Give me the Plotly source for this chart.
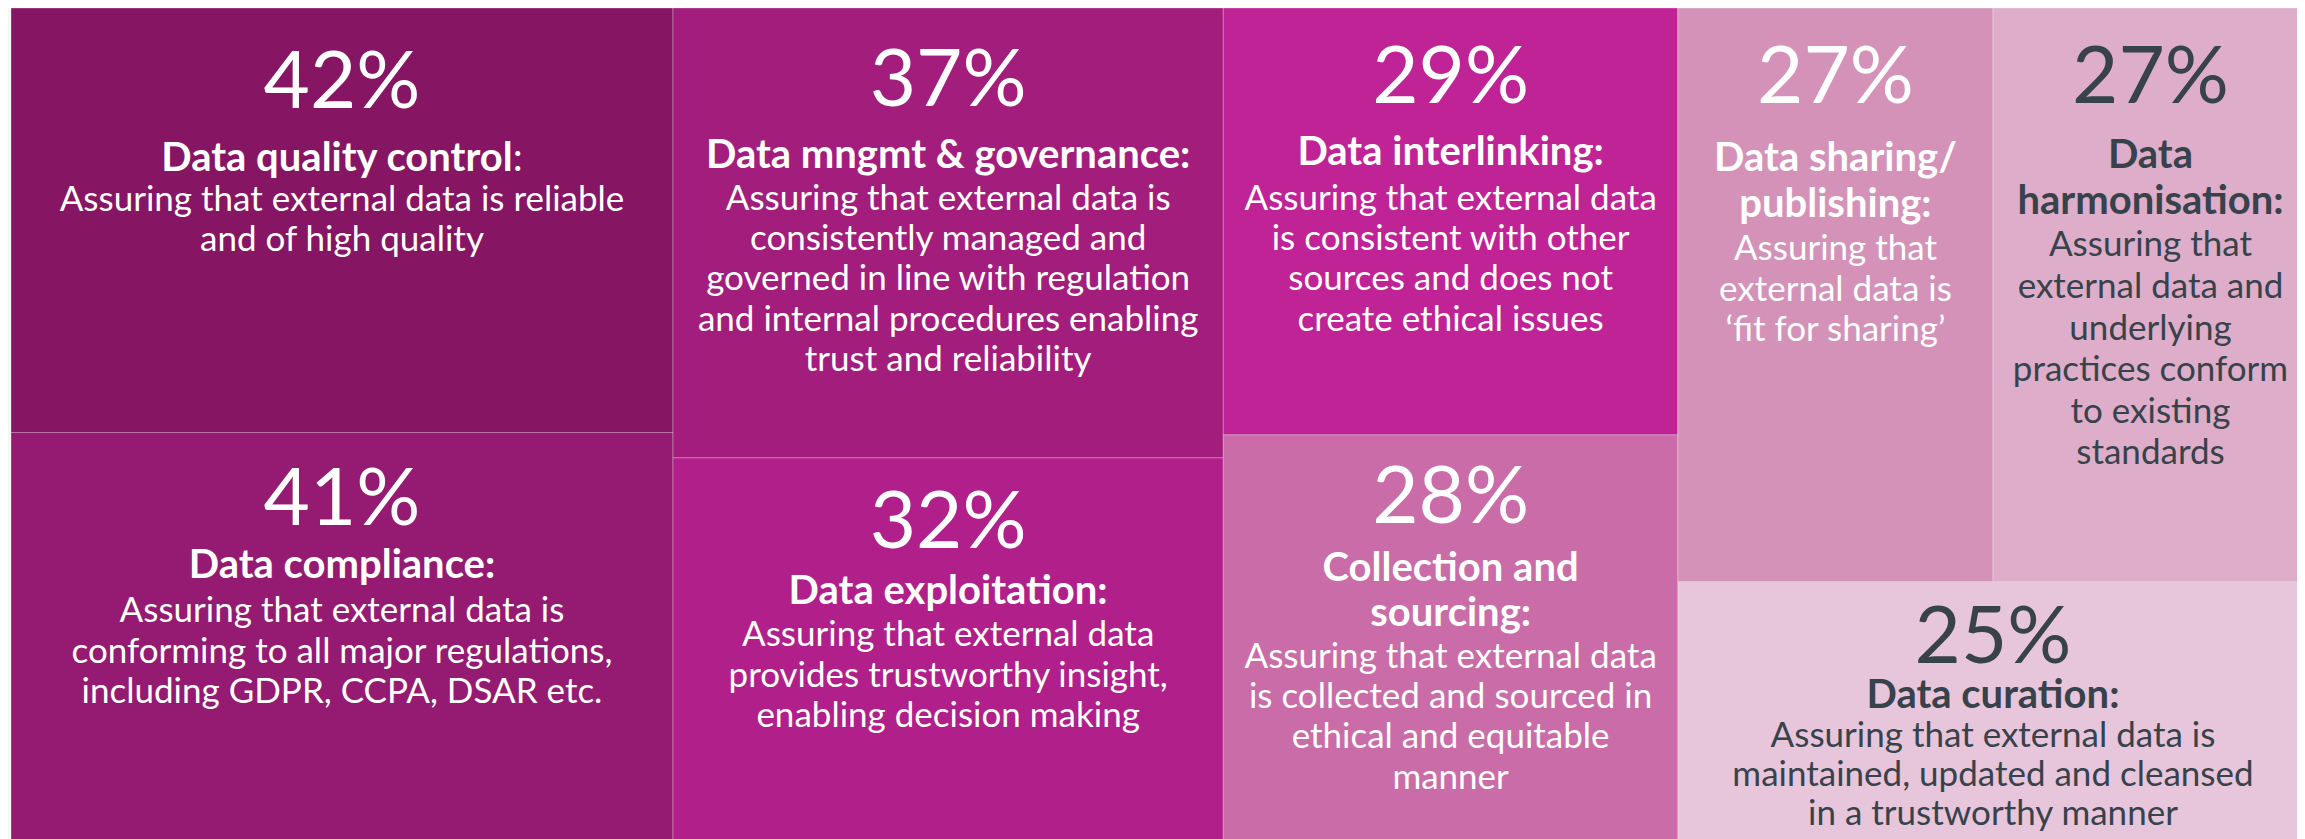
import plotly.graph_objects as go

# ---------------- data ----------------
pct_values = [42, 41, 37, 32, 29, 28, 27, 27, 25]

titles = [
    ["Data quality control:"],
    ["Data compliance:"],
    ["Data mngmt & governance:"],
    ["Data exploitation:"],
    ["Data interlinking:"],
    ["Collection and", "sourcing:"],
    ["Data sharing/", "publishing:"],
    ["Data", "harmonisation:"],
    ["Data curation:"],
]

descriptions = [
    ["Assuring that external data is reliable", "and of high quality"],
    ["Assuring that external data is", "conforming to all major regulations,",
     "including GDPR, CCPA, DSAR etc."],
    ["Assuring that external data is", "consistently managed and",
     "governed in line with regulation", "and internal procedures enabling",
     "trust and reliability"],
    ["Assuring that external data", "provides trustworthy insight,",
     "enabling decision making"],
    ["Assuring that external data", "is consistent with other",
     "sources and does not", "create ethical issues"],
    ["Assuring that external data", "is collected and sourced in",
     "ethical and equitable", "manner"],
    ["Assuring that", "external data is", "\u2018fit for sharing\u2019"],
    ["Assuring that", "external data and", "underlying", "practices conform",
     "to existing", "standards"],
    ["Assuring that external data is", "maintained, updated and cleansed",
     "in a trustworthy manner"],
]

tile_groups = ["A", "A", "B", "B", "C", "C", "E", "E", "D"]
group_ids = ["A", "B", "C", "D", "E"]
group_parents = ["root", "root", "root", "root", "D"]

# ---------------- styles ----------------
tile_colors = ["#861563", "#951a72", "#a31d7d", "#b11f8b", "#bf2396",
               "#c96ca8", "#d492b9", "#ddadc9", "#e7c5da"]
text_colors = ["white"] * 7 + ["#37424a", "#37424a"]

FONT = "Lato"
PCT_SIZE = 80
TITLE_SIZE = 40
DESC_SIZE = 35
BASE = 1                   # base font size (px)
UNIT = 1.3 * BASE          # px advanced per <br>

# per-tile typographic layout (px)
PCT_DROP = [97, 90, 94, 87, 92, 86, 92, 92, 0]    # text-box top -> % baseline (0 = natural)
GAP_PCT = [62, 53, 62, 56, 62, 57, 67, 65, 44]
GAP_TITLE = [44, 44, 44, 44, 44, 45, 47, 45, 44]
GAP_DESC_FIRST = [40, 44, 42, 43, 44, 42, 43, 43, 39]
GAP_DESC = [40, 40, 40.5, 40, 40, 40, 40, 41, 39]
BOLD_COLON = [False] + [True] * 8


def brs(px):
    return "<br>" * int(round(px / UNIT))


def top_strut(drop):
    # a 1px transparent marker line that fixes the top of the text box
    if not drop:
        return ""
    return ("<span style='font-size:1px;color:rgba(0,0,0,0)'>\u00a0</span>"
            + brs(drop - 1))


def tile_text(i):
    s = top_strut(PCT_DROP[i])
    s += f"<span style='font-size:{PCT_SIZE}px'>{pct_values[i]}%</span>"
    s += brs(GAP_PCT[i])
    for k, t in enumerate(titles[i]):
        if k:
            s += brs(GAP_TITLE[i])
        if not BOLD_COLON[i] and t.endswith(":"):
            body = f"<b>{t[:-1]}</b>:"
        else:
            body = f"<b>{t}</b>"
        s += f"<span style='font-size:{TITLE_SIZE}px'>{body}</span>"
    for k, d in enumerate(descriptions[i]):
        s += brs(GAP_DESC_FIRST[i] if k == 0 else GAP_DESC[i])
        s += f"<span style='font-size:{DESC_SIZE}px'>{d}</span>"
    return s


leaf_ids = [f"t{i}" for i in range(len(pct_values))]
ids = ["root"] + group_ids + leaf_ids
parents = [""] + group_parents + tile_groups
values = [0] * (1 + len(group_ids)) + pct_values
texts = [""] * (1 + len(group_ids)) + [tile_text(i) for i in range(len(pct_values))]
colors = [tile_colors[0]] * (1 + len(group_ids)) + tile_colors
tcolors = ["white"] * (1 + len(group_ids)) + text_colors

fig = go.Figure(go.Treemap(
    ids=ids,
    labels=ids,
    parents=parents,
    values=values,
    branchvalues="remainder",
    sort=False,
    text=texts,
    textinfo="text",
    textposition="top center",
    textfont=dict(family=FONT, size=BASE, color=tcolors),
    insidetextfont=dict(family=FONT, size=BASE, color=tcolors),
    marker=dict(colors=colors, line=dict(color="rgba(255,255,255,0.3)", width=1),
                pad=dict(t=0, l=0, r=0, b=0), depthfade=False),
    tiling=dict(packing="slice-dice", pad=0),
    pathbar=dict(visible=False),
    hoverinfo="skip",
))

fig.update_layout(
    width=2305, height=839,
    margin=dict(l=3, r=5, t=0, b=0),
    paper_bgcolor="#f4f6f5",
    plot_bgcolor="#f4f6f5",
)

fig.write_html("out.html")
